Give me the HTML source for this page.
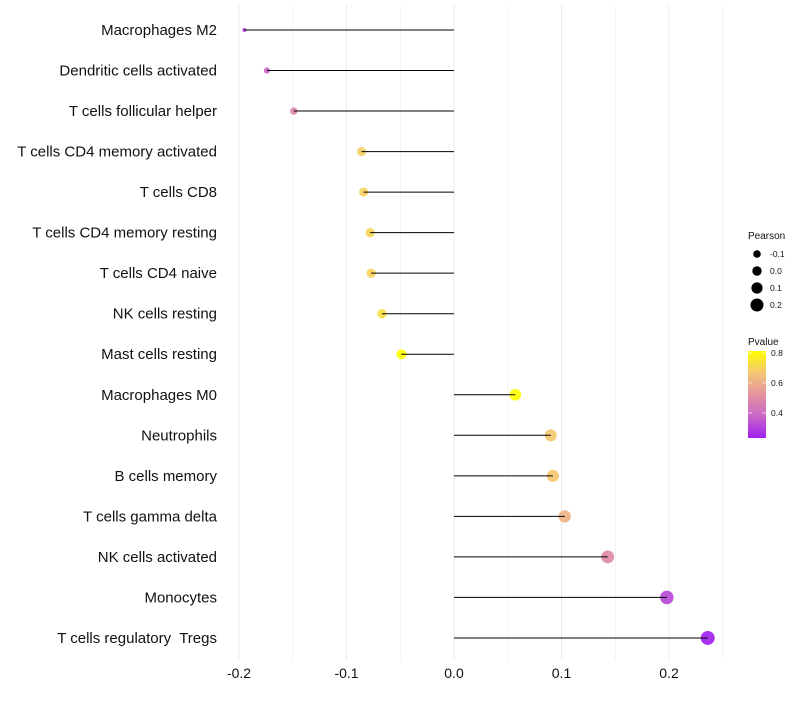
<!DOCTYPE html>
<html><head><meta charset="utf-8"><style>
body{margin:0;background:#fff;font-family:"Liberation Sans",sans-serif;}
svg text{font-family:"Liberation Sans",sans-serif;white-space:pre;}
</style></head><body>
<svg id="chart" width="800" height="700" xmlns="http://www.w3.org/2000/svg">
<defs><linearGradient id="pg" x1="0" y1="1" x2="0" y2="0">
<stop offset="0" stop-color="#A020F0"/><stop offset="0.25" stop-color="#C866C8"/><stop offset="0.5" stop-color="#E4939F"/><stop offset="0.75" stop-color="#F4C673"/><stop offset="1" stop-color="#FFFF00"/></linearGradient></defs>
<g id="grid"></g><g id="points"></g><g id="marks"></g><g id="labels"></g><g id="legend"></g>
</svg>
<script>
const categories=["Macrophages M2","Dendritic cells activated","T cells follicular helper","T cells CD4 memory activated","T cells CD8","T cells CD4 memory resting","T cells CD4 naive","NK cells resting","Mast cells resting","Macrophages M0","Neutrophils","B cells memory","T cells gamma delta","NK cells activated","Monocytes","T cells regulatory  Tregs"];
const pearson=[-0.195,-0.174,-0.149,-0.086,-0.084,-0.078,-0.077,-0.067,-0.049,0.057,0.090,0.092,0.103,0.143,0.198,0.236];
const pvalue=[0.30,0.38,0.48,0.685,0.69,0.70,0.70,0.73,0.81,0.81,0.67,0.67,0.615,0.49,0.32,0.24];
const xTicks=[-0.2,-0.1,0.0,0.1,0.2];
const xTickLabels=["-0.2","-0.1","0.0","0.1","0.2"];
const sizeLegend=[-0.1,0.0,0.1,0.2];
const colorLegend=[0.4,0.6,0.8];

const NS="http://www.w3.org/2000/svg";
const X=v=>454+v*1075;
const Y=i=>30+i*40.53;
const R=v=>2+5*Math.sqrt(Math.max(0,(v+0.195)/0.431));
const stops=[[160,32,240],[200,102,200],[228,147,159],[244,198,115],[255,255,0]];
function col(p){const t=Math.max(0,Math.min(1,(p-0.233)/(0.813-0.233)))*4;
 const i=Math.min(3,Math.floor(t)),f=t-i;const c=stops[i].map((x,k)=>Math.round(x+(stops[i+1][k]-x)*f));return `rgb(${c})`;}
function mk(tag,attrs,parent,text){const e=document.createElementNS(NS,tag);for(const k in attrs)e.setAttribute(k,attrs[k]);if(text!==undefined)e.textContent=text;parent.appendChild(e);return e;}
const grid=document.getElementById('grid'),marks=document.getElementById('marks'),points=document.getElementById('points'),labels=document.getElementById('labels'),legend=document.getElementById('legend');
for(let k=-4;k<=5;k++){const v=k*0.05;const l=mk('line',{x1:X(v),x2:X(v),y1:5,y2:660,stroke:'#ebebeb','stroke-width':k%2?0.6:1},grid);
}
xTicks.forEach((v,i)=>{const t=mk('text',{x:X(v),y:678,'text-anchor':'middle','font-size':14,fill:'#111'},labels,xTickLabels[i]);
});
categories.forEach((c,i)=>{
 const t=mk('text',{x:217,y:Y(i)+5,'text-anchor':'end','font-size':15,fill:'#111'},labels,c);
 
 const p=mk('circle',{cx:X(pearson[i]),cy:Y(i),r:R(pearson[i]),fill:col(pvalue[i]),'fill-opacity':0.92},points);
 
 const l=mk('line',{x1:X(0),x2:X(pearson[i]),y1:Y(i),y2:Y(i),stroke:'#000','stroke-width':1},marks);
 
});
const lt=mk('text',{x:748,y:239,'font-size':10,fill:'#111'},legend,'Pearson');

sizeLegend.forEach((v,i)=>{const y=254+i*17;
 const c=mk('circle',{cx:757,cy:y,r:3.8+i*0.9,fill:'#000'},legend);
 
 const t=mk('text',{x:770,y:y+3,'font-size':8.5,fill:'#111'},legend,v.toFixed(1));
 });
const ct=mk('text',{x:748,y:345,'font-size':10,fill:'#111'},legend,'Pvalue');

const bar=mk('rect',{x:748,y:351,width:18,height:87,fill:'url(#pg)'},legend);

colorLegend.forEach(v=>{const y=351+(0.813-v)*150;
 const t=mk('text',{x:771,y:y+3,'font-size':8.5,fill:'#111'},legend,v.toFixed(1));
 
 mk('line',{x1:748,x2:752,y1:y,y2:y,stroke:'#fff','stroke-width':0.6},legend);
 mk('line',{x1:762,x2:766,y1:y,y2:y,stroke:'#fff','stroke-width':0.6},legend);});
</script>
</body></html>
